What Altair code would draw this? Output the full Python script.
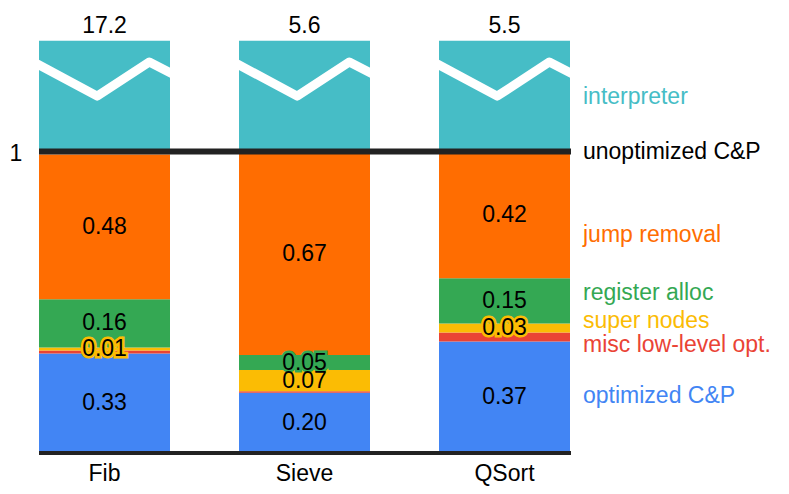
import altair as alt
import pandas as pd

# ---------------- data ----------------
categories = ["Fib", "Sieve", "QSort"]
interpreter = [17.2, 5.6, 5.5]
optimized_cp = [0.33, 0.20, 0.37]
misc_low_level = [0.01, 0.005, 0.03]
super_nodes = [0.01, 0.07, 0.03]
register_alloc = [0.16, 0.05, 0.15]
jump_removal = [0.48, 0.67, 0.42]

series_names = ["optimized C&P", "misc low-level opt.", "super nodes",
                "register alloc", "jump removal"]
series_values = [optimized_cp, misc_low_level, super_nodes,
                 register_alloc, jump_removal]
series_labeled = [True, False, True, True, True]

legend_names = ["interpreter", "unoptimized C&P", "jump removal", "register alloc",
                "super nodes", "misc low-level opt.", "optimized C&P"]

# ---------------- style / layout ----------------
BLUE, RED, YELLOW, GREEN, ORANGE, TEAL = (
    "#4285F4", "#EA4335", "#FBBC04", "#34A853", "#FF6D01", "#46BDC6")
series_colors = [BLUE, RED, YELLOW, GREEN, ORANGE]
legend_colors = [TEAL, "#000000", ORANGE, GREEN, YELLOW, RED, BLUE]
legend_pos = [1.182, 1.0, 0.723, 0.531, 0.437, 0.357, 0.19]

FONT = "Liberation Sans"
FS = 23
BAR_W = 0.655
CAP = 1.3675          # drawn height of the (broken) interpreter bar
X_MAX = 2.66
Y_MAX = 1.4
ZIG_FX = [-0.02, 0.445, 0.842, 1.02]
ZIG_Y = [1.292, 1.184, 1.297, 1.257]

# ---------------- tables ----------------
rows = []
for i, cat in enumerate(categories):
    base = 0.0
    for name, vals, lab, col in zip(series_names, series_values, series_labeled, series_colors):
        v = vals[i]
        rows.append(dict(cat=cat, series=name, x0=i, x1=i + BAR_W, xc=i + BAR_W / 2,
                         y0=base, y1=base + v, yc=base + v / 2,
                         label=(f"{v:.2f}" if lab else ""), color=col))
        base += v
seg = pd.DataFrame(rows)
seg_lab = seg[seg["label"] != ""]

interp = pd.DataFrame(dict(
    cat=categories,
    x0=[i for i in range(len(categories))],
    x1=[i + BAR_W for i in range(len(categories))],
    xc=[i + BAR_W / 2 for i in range(len(categories))],
    y0=[1.0] * len(categories), y1=[CAP] * len(categories),
    yb=[0.0] * len(categories),
    label=[f"{v}" for v in interpreter]))

zig_rows = []
for i, cat in enumerate(categories):
    for k, (fx, fy) in enumerate(zip(ZIG_FX, ZIG_Y)):
        zig_rows.append(dict(cat=cat, k=k, x=i + fx * BAR_W, y=fy))
zig = pd.DataFrame(zig_rows)

legend = pd.DataFrame(dict(name=legend_names, color=legend_colors, y=legend_pos,
                           x=[len(categories) - 1 + BAR_W] * len(legend_names)))

xs = alt.Scale(domain=[0, X_MAX], nice=False, zero=False)
ys = alt.Scale(domain=[0, Y_MAX], nice=False, zero=False)

bars = alt.Chart(seg).mark_rect().encode(
    x=alt.X("x0:Q", scale=xs, axis=None), x2="x1:Q",
    y=alt.Y("y0:Q", scale=ys, axis=None), y2="y1:Q",
    color=alt.Color("color:N", scale=None))

interp_bars = alt.Chart(interp).mark_rect(color=TEAL).encode(
    x=alt.X("x0:Q", scale=xs, axis=None), x2="x1:Q",
    y=alt.Y("y0:Q", scale=ys, axis=None), y2="y1:Q")

zigzag = alt.Chart(zig).mark_line(color="white", strokeWidth=9,
                                  strokeJoin="round", strokeCap="butt").encode(
    x=alt.X("x:Q", scale=xs, axis=None),
    y=alt.Y("y:Q", scale=ys, axis=None),
    detail="cat:N", order="k:Q")

rule_df = pd.DataFrame(dict(x0=[0.0], x1=[X_MAX], y0=[0.0], y1=[1.0]))
rule0 = alt.Chart(rule_df).mark_rule(color="#222222", strokeWidth=4).encode(
    x=alt.X("x0:Q", scale=xs, axis=None), x2="x1:Q",
    y=alt.Y("y0:Q", scale=ys, axis=None))
rule1 = alt.Chart(rule_df).mark_rule(color="#222222", strokeWidth=6).encode(
    x=alt.X("x0:Q", scale=xs, axis=None), x2="x1:Q",
    y=alt.Y("y1:Q", scale=ys, axis=None))

halo = alt.Chart(seg_lab).mark_text(font=FONT, fontSize=FS, strokeWidth=5,
                                    baseline="middle", align="center").encode(
    x=alt.X("xc:Q", scale=xs, axis=None),
    y=alt.Y("yc:Q", scale=ys, axis=None),
    text="label:N",
    color=alt.Color("color:N", scale=None),
    stroke=alt.Stroke("color:N", scale=None))

vals = alt.Chart(seg_lab).mark_text(font=FONT, fontSize=FS, color="black",
                                    baseline="middle", align="center").encode(
    x=alt.X("xc:Q", scale=xs, axis=None),
    y=alt.Y("yc:Q", scale=ys, axis=None),
    text="label:N")

top_labels = alt.Chart(interp).mark_text(font=FONT, fontSize=FS, color="black",
                                         baseline="alphabetic", align="center", dy=-8).encode(
    x=alt.X("xc:Q", scale=xs, axis=None),
    y=alt.Y("y1:Q", scale=ys, axis=None),
    text="label:N")

cat_labels = alt.Chart(interp).mark_text(font=FONT, fontSize=FS, color="black",
                                         baseline="alphabetic", align="center", dy=28).encode(
    x=alt.X("xc:Q", scale=xs, axis=None),
    y=alt.Y("yb:Q", scale=ys, axis=None),
    text="cat:N")

one_df = pd.DataFrame(dict(x=[0.0], y=[1.0], t=["1"]))
one_label = alt.Chart(one_df).mark_text(font=FONT, fontSize=FS, color="black",
                                        baseline="middle", align="center", dx=-23, dy=2).encode(
    x=alt.X("x:Q", scale=xs, axis=None),
    y=alt.Y("y:Q", scale=ys, axis=None),
    text="t:N")

legend_text = alt.Chart(legend).mark_text(font=FONT, fontSize=FS, baseline="middle",
                                          align="left", dx=13).encode(
    x=alt.X("x:Q", scale=xs, axis=None),
    y=alt.Y("y:Q", scale=ys, axis=None),
    text="name:N",
    color=alt.Color("color:N", scale=None))

chart = alt.layer(
    bars, interp_bars, zigzag, rule0, rule1, halo, vals,
    top_labels, cat_labels, one_label, legend_text
).properties(
    width=532, height=422,
    padding={"left": 31, "top": 23, "right": 210, "bottom": 33},
    autosize=alt.AutoSizeParams(type="none"),
).configure_view(stroke=None)

chart.save("out.html", embed_options={"renderer": "svg", "actions": False})
